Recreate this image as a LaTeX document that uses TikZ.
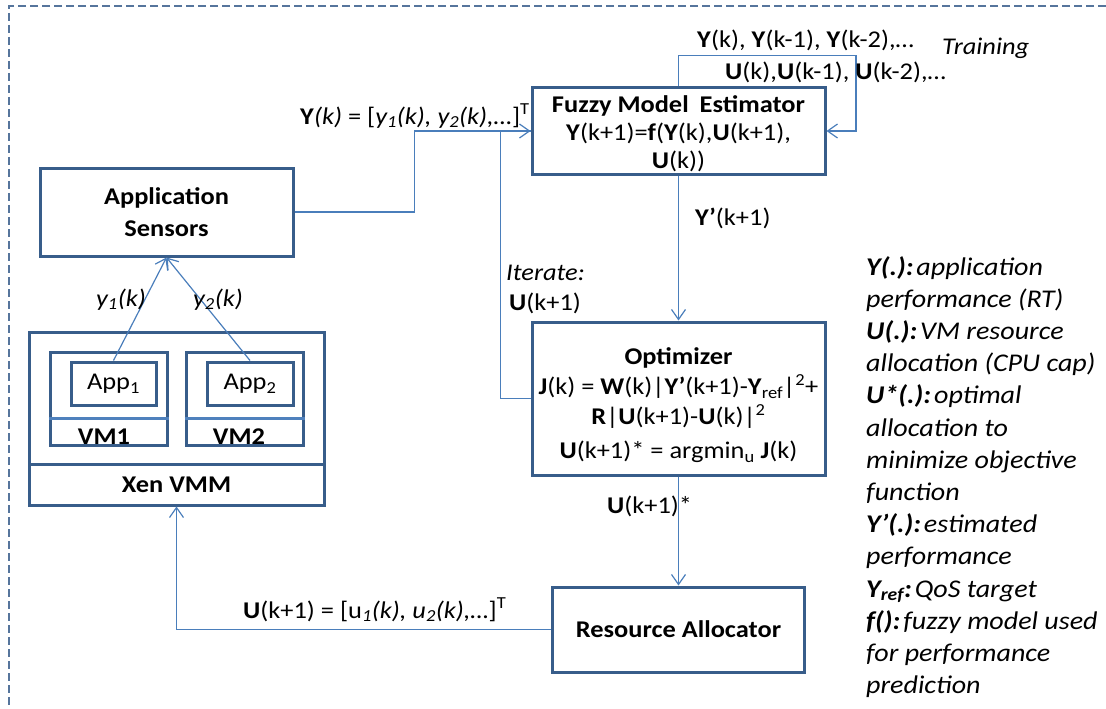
\documentclass[tikz,border=0pt]{standalone}
\usepackage{fontspec}
\setmainfont{Carlito}[FakeStretch=1.1]
\usetikzlibrary{arrows.meta}
\definecolor{boxblue}{HTML}{385D8A}
\definecolor{linkblue}{HTML}{4A7EBB}
\definecolor{barblue}{HTML}{4F81BD}
\tikzset{
  box/.style={draw=boxblue, line width=3pt, inner sep=0pt, align=center,
    font=\fontsize{24}{28}\selectfont},
  boxtext/.style={inner sep=0pt, align=center},
  link/.style={draw=linkblue, line width=1.2pt},
  arr/.style={link, -{Straight Barb[length=10pt,width=14pt,line width=1.2pt]}},
  lbl/.style={inner sep=0pt, font=\fontsize{24}{28}\selectfont},
  legend/.style={inner sep=0pt, anchor=base west, font=\itshape\fontsize{25.5}{32}\selectfont},
}
\newcommand{\lgsp}{\hspace{3pt}}
\begin{document}
\begin{tikzpicture}[x=1pt, y=-1pt]
\useasboundingbox (0,0) rectangle (1106,709);
% dashed frame
\draw[boxblue!85!white, line width=1.4pt, dash pattern=on 8pt off 4pt] (1106,6) -- (9,6) -- (9,709);

% blocks
\node[box, minimum width=253pt, minimum height=88pt, font=\bfseries\fontsize{24}{32}\selectfont]
  (sens) at (166.5,212) {Application\\Sensors};
\node[box, minimum width=293pt, minimum height=86pt] (fme) at (678.5,131) {};
\node[boxtext, font=\fontsize{24}{28}\selectfont] (fmetxt) at (678.5,134)
  {{\bfseries Fuzzy Model\hspace{5pt} Estimator}\\
   \textbf{Y}(k+1)=\textbf{f}(\textbf{Y}(k),\textbf{U}(k+1),\\
   \textbf{U}(k))};
\node[box, minimum width=293pt, minimum height=153pt] (opt) at (678.5,398.5) {};
\node[boxtext, font=\fontsize{24}{30}\selectfont] (opttxt) at (678.5,405)
  {{\bfseries Optimizer}\\
   \textbf{J}(k) = \textbf{W}(k)|\textbf{Y’}(k+1)-\textbf{Y}\textsubscript{ref}|\textsuperscript{2}+\\
   \textbf{R}|\textbf{U}(k+1)-\textbf{U}(k)|\textsuperscript{2}\\[4pt]
   \textbf{U}(k+1)* = argmin\textsubscript{u} \textbf{J}(k)};
\node[box, minimum width=252pt, minimum height=85pt, font=\bfseries\fontsize{24}{28}\selectfont]
  (ra) at (678.5,629.5) {Resource Allocator};

% virtualised host
\node[box, minimum width=295pt, minimum height=132pt] (host) at (176.5,398) {};
\node[box, minimum width=295pt, minimum height=41pt, font=\bfseries\fontsize{24}{28}\selectfont]
  (xen) at (176.5,484.5) {Xen VMM};
\node[box, minimum width=117pt, minimum height=93pt] (vm1) at (108.5,398.5) {};
\node[box, minimum width=117pt, minimum height=93pt] (vm2) at (244.5,398.5) {};
\draw[barblue, line width=3pt] (vm1.west |- 0,418) -- (vm1.east |- 0,418);
\draw[barblue, line width=3pt] (vm2.west |- 0,418) -- (vm2.east |- 0,418);
\node[box, minimum width=85pt, minimum height=43pt] (app1) at (113.5,383.5) {App\textsubscript{1}};
\node[box, minimum width=86pt, minimum height=43pt] (app2) at (250,383.5) {App\textsubscript{2}};
\node[lbl, anchor=base, font=\bfseries\fontsize{24}{28}\selectfont] (vm1t) at (104,444) {VM1};
\node[lbl, anchor=base, font=\bfseries\fontsize{24}{28}\selectfont] (vm2t) at (239,444) {VM2};

% connectors
\draw[arr] (app1.north) -- (sens.south);
\draw[arr] (app2.north) -- (sens.south);
\draw[arr] (sens.east) -- ++(120,0) |- (fme.west);
\draw[link] (opt.west) -- ++(-30,0) |- (fme.west);
\draw[arr] (fme.north) -- ++(0,-31) -- ++(177.5,0) |- (fme.east);
\draw[arr] (fme.south) -- (opt.north);
\draw[arr] (opt.south) -- (ra.north);
\draw[arr] (ra.west) -| (xen.south);

% connector labels
\node[lbl, anchor=base] (ly1) at (121,306) {\textit{y\textsubscript{1}(k)}};
\node[lbl, anchor=base] (ly2) at (218,306) {\textit{y\textsubscript{2}(k)}};
\node[lbl, anchor=base west] (lyk) at (300,124)
  {\textbf{Y}\textit{(k)} = [\textit{y\textsubscript{1}(k), y\textsubscript{2}(k),…}]\textsuperscript{T}};
\node[lbl, anchor=base west] (lhist1) at (697,48) {\textbf{Y}(k), \textbf{Y}(k-1), \textbf{Y}(k-2),…};
\node[lbl, anchor=base west] (lhist2) at (725,80) {\textbf{U}(k),\textbf{U}(k-1), \textbf{U}(k-2),…};
\node[lbl, anchor=base west] (ltrain) at (942,55) {\textit{Training}};
\node[lbl, anchor=base west] (lyp) at (695,225) {\textbf{Y’}(k+1)};
\node[lbl, anchor=base west] (liter) at (506,280) {\textit{Iterate:}};
\node[lbl, anchor=base west] (luit) at (509,310) {\textbf{U}(k+1)};
\node[lbl, anchor=base west] (lustar) at (607,513) {\textbf{U}(k+1)*};
\node[lbl, anchor=base west] (lu) at (243,618)
  {\textbf{U}(k+1) = [u\textsubscript{\textit{1}}\textit{(k), u\textsubscript{2}(k),…}]\textsuperscript{T}};

% legend
\foreach \t [count=\i from 0] in {
  {\textbf{Y(.):}\lgsp application},
  {performance (RT)},
  {\textbf{U(.):}\lgsp VM resource},
  {allocation (CPU cap)},
  {\textbf{U*(.):}\lgsp optimal},
  {allocation to},
  {minimize objective},
  {function},
  {\textbf{Y’(.):}\lgsp estimated},
  {performance},
  {\textbf{Y\textsubscript{ref}:}\lgsp QoS target},
  {\textbf{f():}\lgsp fuzzy model used},
  {for performance},
  {prediction}}
  \node[legend] (leg\i) at (866,275+32.2*\i) {\t};
\end{tikzpicture}
\end{document}
